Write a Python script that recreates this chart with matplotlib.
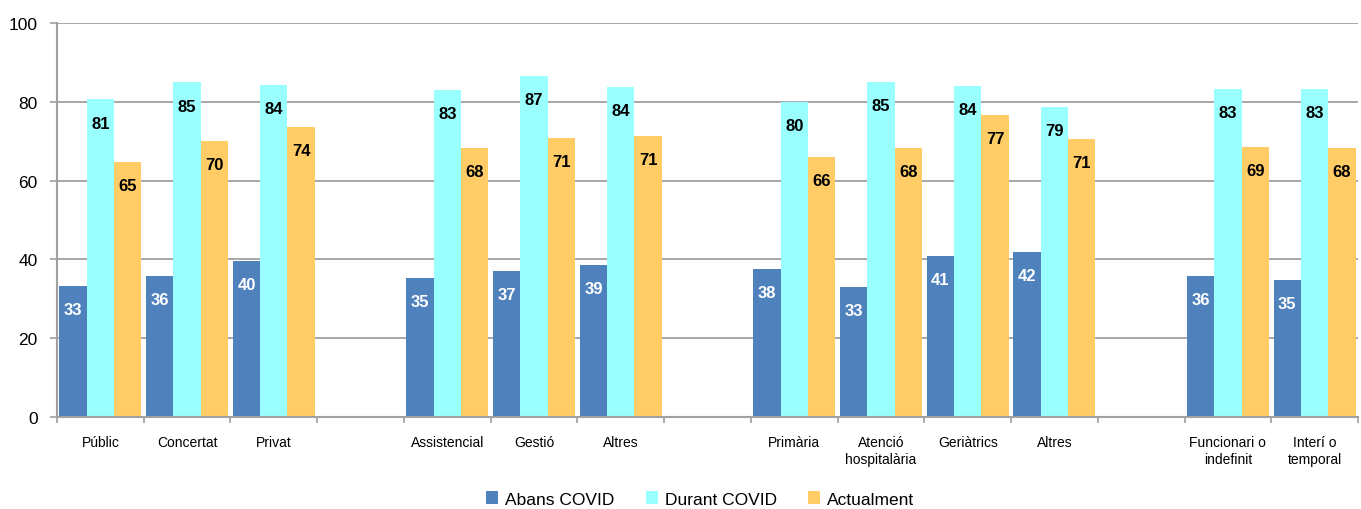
import numpy as np
import matplotlib.pyplot as plt
from matplotlib import font_manager

categories = ["Públic", "Concertat", "Privat", "",
              "Assistencial", "Gestió", "Altres", "",
              "Primària", "Atenció\nhospitalària", "Geriàtrics", "Altres", "",
              "Funcionari o\nindefinit", "Interí o\ntemporal"]
abans = [33.3, 35.8, 39.6, np.nan, 35.2, 37.0, 38.6, np.nan,
         37.6, 32.9, 40.8, 42.0, np.nan, 35.7, 34.8]
durant = [80.6, 84.9, 84.3, np.nan, 83.0, 86.6, 83.8, np.nan,
          80.0, 85.0, 84.0, 78.7, np.nan, 83.2, 83.3]
actual = [64.7, 70.1, 73.6, np.nan, 68.3, 70.8, 71.3, np.nan,
          65.9, 68.2, 76.7, 70.6, np.nan, 68.6, 68.3]
series_names = ["Abans COVID", "Durant COVID", "Actualment"]

installed = {f.name for f in font_manager.fontManager.ttflist}
narrow = "Liberation Sans Narrow" if "Liberation Sans Narrow" in installed else "Liberation Sans"
plt.rcParams["font.family"] = ["Liberation Sans", "DejaVu Sans"]

colors = ["#4F81BD", "#99FFFF", "#FFCC66"]
label_colors = ["white", "black", "black"]
grid_col = "#A0A0A0"

fig = plt.figure(figsize=(13.61, 5.10), dpi=100)
ax = fig.add_axes([57 / 1361, 92 / 510, 1301 / 1361, 394 / 510])

x = np.arange(len(categories))
w = 0.315
for i, (vals, c, lc, name) in enumerate(zip([abans, durant, actual], colors, label_colors, series_names)):
    pos = x + (i - 1) * w
    ax.bar(pos, vals, width=w, color=c, label=name, zorder=3, linewidth=0)
    for p, v in zip(pos, vals):
        if np.isnan(v):
            continue
        ax.annotate(f"{v:.0f}", (p, v), xytext=(0, -17), textcoords="offset points",
                    ha="center", va="center", color=lc, fontsize=12,
                    fontweight="bold", family=[narrow, "DejaVu Sans"], zorder=4)

ax.set_xlim(-0.5, len(categories) - 0.5)
ax.set_ylim(0, 100)
ax.set_yticks(np.arange(0, 101, 20))
ax.set_xticks(x)
ax.set_xticklabels(categories, fontsize=10, linespacing=1.25)
ax.set_xticks(np.arange(-0.5, len(categories), 1), minor=True)
ax.tick_params(axis="x", which="major", length=0, pad=13)
ax.tick_params(axis="x", which="minor", length=4, width=1.2, color=grid_col, direction="out")
ax.tick_params(axis="y", labelsize=12.5, length=5, width=1.2, color=grid_col, pad=9)

ax.yaxis.grid(True, color=grid_col, linewidth=1.3, zorder=0)
ax.set_axisbelow(True)
for s in ["top", "right"]:
    ax.spines[s].set_visible(False)
for s in ["left", "bottom"]:
    ax.spines[s].set_color(grid_col)
    ax.spines[s].set_linewidth(1.5)
    ax.spines[s].set_zorder(5)

fig.legend(loc="center", bbox_to_anchor=(700 / 1361, 10 / 510), ncol=3, frameon=False,
           fontsize=12.5, handlelength=0.7, handleheight=0.7, handletextpad=0.4,
           columnspacing=1.8)

fig.savefig("out.png", dpi=100)
